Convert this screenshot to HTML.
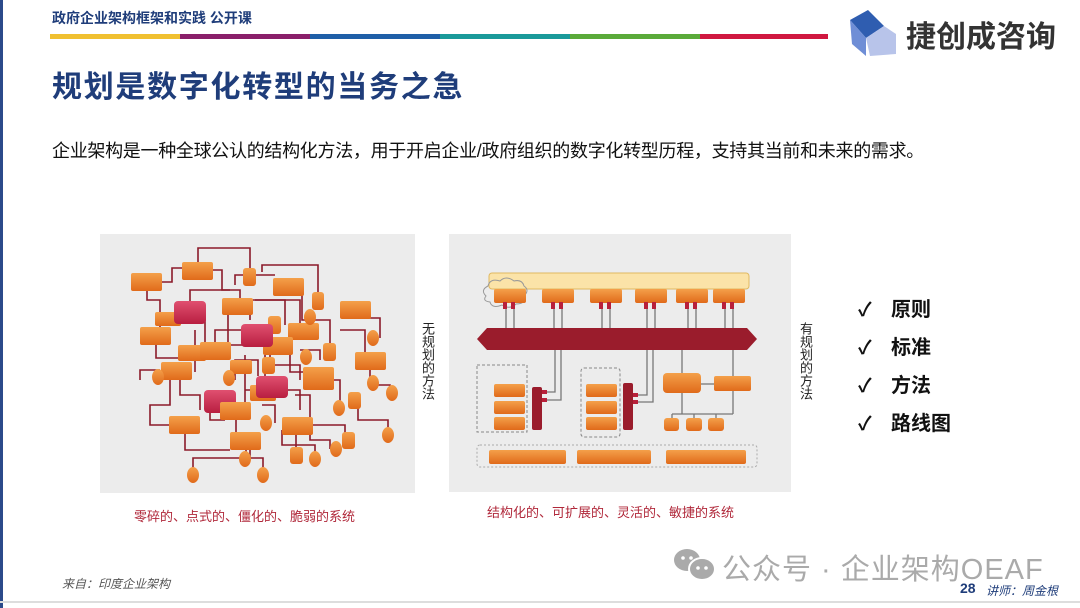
<!DOCTYPE html>
<html><head><meta charset="utf-8"><style>
*{margin:0;padding:0}
body{width:1080px;height:608px;position:relative;background:#fff;overflow:hidden;font-family:"Liberation Sans","Noto Sans CJK SC",sans-serif}
.a{position:absolute;white-space:nowrap}
</style></head><body>
<div class="a" style="left:0;top:0;width:3px;height:608px;background:#2b4a8a"></div>
<div class="a" style="left:52px;top:8px;font-size:14px;font-weight:bold;color:#1f3d7a">政府企业架构框架和实践 公开课</div>
<div class="a" style="left:50px;top:34px;height:5px;width:130px;background:#f0c030"></div>
<div class="a" style="left:180px;top:34px;height:5px;width:130px;background:#8a1f6a"></div>
<div class="a" style="left:310px;top:34px;height:5px;width:130px;background:#1f5fa8"></div>
<div class="a" style="left:440px;top:34px;height:5px;width:130px;background:#1a9a9a"></div>
<div class="a" style="left:570px;top:34px;height:5px;width:130px;background:#5aaa3a"></div>
<div class="a" style="left:700px;top:34px;height:5px;width:128px;background:#d01840"></div>
<svg class="a" style="left:848px;top:8px" width="52" height="48"><polygon points="2,12 20,2 36,18 18,30" fill="#2f5db0"/><polygon points="2,12 18,30 18,48 4,36" fill="#6f8ed6"/><polygon points="18,30 36,18 48,26 48,46 22,48" fill="#b8c4ea"/></svg>
<div class="a" style="left:906px;top:12px;font-size:30px;font-weight:bold;color:#333">捷创成咨询</div>
<div class="a" style="left:52px;top:62px;font-size:30px;font-weight:bold;color:#1f3d7a;letter-spacing:1.7px">规划是数字化转型的当务之急</div>
<div class="a" style="left:52px;top:137px;font-size:18px;color:#111;letter-spacing:-0.3px">企业架构是一种全球公认的结构化方法，用于开启企业/政府组织的数字化转型历程，支持其当前和未来的需求。</div>

<svg class="a" style="left:0;top:0" width="1080" height="608">
<defs>
<linearGradient id="o" x1="0" y1="0" x2="0" y2="1"><stop offset="0" stop-color="#f4a04a"/><stop offset="1" stop-color="#e06a1a"/></linearGradient>
<linearGradient id="p" x1="0" y1="0" x2="0" y2="1"><stop offset="0" stop-color="#e05070"/><stop offset="1" stop-color="#b81e40"/></linearGradient>
</defs>
<rect x="100" y="234" width="315" height="259" fill="#ececec"/>
<rect x="449" y="234" width="342" height="258" fill="#ececec"/>
<g stroke="#8b1a2a" stroke-width="1.6" fill="none">
<polyline points="147,282 147,300 160,300 160,340"/>
<polyline points="162,282 172,282 172,268 182,268"/>
<polyline points="198,262 198,248 250,248 250,268"/>
<polyline points="213,270 222,270 222,290 240,290 240,305"/>
<polyline points="262,272 262,265 318,265 318,292"/>
<polyline points="288,286 302,286 302,320 330,320 330,343"/>
<polyline points="190,310 190,290 230,290"/>
<polyline points="156,345 156,358 200,358"/>
<polyline points="180,370 180,395 200,395 200,410"/>
<polyline points="215,350 215,330 245,330"/>
<polyline points="250,320 250,300 285,300 285,325"/>
<polyline points="270,345 270,365 300,365 300,380"/>
<polyline points="170,380 170,405 150,405 150,425 170,425"/>
<polyline points="235,380 235,360 258,360 258,376"/>
<polyline points="340,330 365,330 365,352"/>
<polyline points="356,318 380,318 380,338"/>
<polyline points="370,370 370,385 390,385 390,393"/>
<polyline points="318,380 340,380 340,408"/>
<polyline points="295,395 310,395 310,440 330,440 330,449"/>
<polyline points="236,420 236,440 250,440 250,459"/>
<polyline points="185,434 185,450 230,450"/>
<polyline points="262,405 275,405 275,423"/>
<polyline points="296,434 296,448"/>
<polyline points="300,425 345,425 345,440"/>
<polyline points="246,450 246,458 193,458 193,475"/>
<polyline points="246,458 263,458 263,475"/>
<polyline points="282,430 282,445 315,445 315,459"/>
<polyline points="358,395 358,420 388,420 388,435"/>
<polyline points="205,345 205,315 180,315"/>
<polyline points="228,315 228,345 260,345"/>
<polyline points="265,355 265,390 245,390"/>
<polyline points="320,360 320,350 300,350"/>
<polyline points="210,395 210,420 225,420"/>
<polyline points="275,390 300,390 300,410"/>
<polyline points="160,370 140,370 140,380"/>
<polyline points="255,300 300,300 300,330"/>
<polyline points="235,285 235,275 275,275"/>
<polyline points="290,350 290,372 320,372"/>
<polyline points="195,330 195,372"/>
<polyline points="245,355 245,410"/>
</g>
<g fill="url(#o)">
<rect x="131" y="273" width="31" height="18" rx="2"/><rect x="182" y="262" width="31" height="18" rx="2"/>
<rect x="273" y="278" width="31" height="18" rx="2"/><rect x="222" y="298" width="31" height="17" rx="2"/>
<rect x="340" y="301" width="31" height="18" rx="2"/><rect x="140" y="327" width="31" height="18" rx="2"/>
<rect x="288" y="323" width="31" height="17" rx="2"/><rect x="355" y="352" width="31" height="18" rx="2"/>
<rect x="161" y="362" width="31" height="18" rx="2"/><rect x="303" y="367" width="31" height="23" rx="2"/>
<rect x="169" y="416" width="31" height="18" rx="2"/><rect x="282" y="417" width="31" height="18" rx="2"/>
<rect x="230" y="432" width="31" height="18" rx="2"/><rect x="263" y="337" width="30" height="18" rx="2"/>
<rect x="243" y="268" width="13" height="18" rx="3"/><rect x="312" y="292" width="12" height="18" rx="3"/>
<rect x="268" y="316" width="13" height="18" rx="3"/><rect x="323" y="343" width="13" height="18" rx="3"/>
<rect x="262" y="357" width="13" height="17" rx="3"/><rect x="348" y="392" width="13" height="17" rx="3"/>
<rect x="290" y="447" width="13" height="17" rx="3"/><rect x="342" y="432" width="13" height="17" rx="3"/>
<rect x="178" y="345" width="28" height="16" rx="2"/><rect x="250" y="385" width="26" height="16" rx="2"/>
<rect x="155" y="312" width="26" height="14" rx="2"/><rect x="230" y="360" width="22" height="14" rx="2"/>
</g>
<g fill="url(#p)">
<rect x="174" y="301" width="32" height="23" rx="4"/><rect x="241" y="324" width="32" height="23" rx="4"/>
<rect x="256" y="376" width="32" height="22" rx="4"/><rect x="204" y="390" width="32" height="23" rx="4"/>
</g>
<g fill="url(#o)">
<rect x="200" y="342" width="31" height="18" rx="2"/><rect x="220" y="402" width="31" height="18" rx="2"/>
<ellipse cx="158" cy="377" rx="6" ry="8"/><ellipse cx="229" cy="378" rx="6" ry="8"/><ellipse cx="306" cy="357" rx="6" ry="8"/>
<ellipse cx="310" cy="317" rx="6" ry="8"/><ellipse cx="373" cy="338" rx="6" ry="8"/><ellipse cx="373" cy="383" rx="6" ry="8"/>
<ellipse cx="392" cy="393" rx="6" ry="8"/><ellipse cx="339" cy="408" rx="6" ry="8"/><ellipse cx="266" cy="423" rx="6" ry="8"/>
<ellipse cx="388" cy="435" rx="6" ry="8"/><ellipse cx="336" cy="449" rx="6" ry="8"/><ellipse cx="315" cy="459" rx="6" ry="8"/>
<ellipse cx="245" cy="459" rx="6" ry="8"/><ellipse cx="193" cy="475" rx="6" ry="8"/><ellipse cx="263" cy="475" rx="6" ry="8"/>
</g>

<rect x="489" y="273" width="260" height="16" rx="3" fill="#fbe3a8" stroke="#e0b860"/>
<path d="M486,296 q-6,-6 2,-10 q2,-8 12,-5 q6,-6 14,0 q8,-2 10,5 q6,4 0,10 q2,8 -8,8 q-6,6 -14,1 q-10,4 -12,-3 q-8,-1 -4,-6z" fill="none" stroke="#999"/>
<g stroke="#777" stroke-width="1.3">
<line x1="506" y1="300" x2="506" y2="330"/><line x1="514" y1="300" x2="514" y2="330"/>
<line x1="554" y1="300" x2="554" y2="330"/><line x1="562" y1="300" x2="562" y2="330"/>
<line x1="602" y1="300" x2="602" y2="330"/><line x1="610" y1="300" x2="610" y2="330"/>
<line x1="647" y1="300" x2="647" y2="330"/><line x1="655" y1="300" x2="655" y2="330"/>
<line x1="688" y1="300" x2="688" y2="330"/><line x1="696" y1="300" x2="696" y2="330"/>
<line x1="725" y1="300" x2="725" y2="330"/><line x1="733" y1="300" x2="733" y2="330"/>
<polyline points="555,348 555,392 545,392" fill="none"/><polyline points="561,348 561,400 545,400" fill="none"/>
<polyline points="647,348 647,395 636,395" fill="none"/><polyline points="653,348 653,402 636,402" fill="none"/>
<line x1="682" y1="348" x2="682" y2="414"/><line x1="733" y1="348" x2="733" y2="414"/>
<line x1="701" y1="384" x2="714" y2="384"/><polyline points="672,414 733,414" fill="none"/>
<line x1="672" y1="414" x2="672" y2="420"/><line x1="694" y1="414" x2="694" y2="420"/><line x1="716" y1="414" x2="716" y2="420"/>
</g>
<g fill="url(#o)">
<rect x="494" y="289" width="32" height="14" rx="2"/><rect x="542" y="289" width="32" height="14" rx="2"/>
<rect x="590" y="289" width="32" height="14" rx="2"/><rect x="635" y="289" width="32" height="14" rx="2"/>
<rect x="676" y="289" width="32" height="14" rx="2"/><rect x="713" y="289" width="32" height="14" rx="2"/>
</g>
<g fill="#b8203a">
<rect x="503" y="302" width="4" height="7"/><rect x="511" y="302" width="4" height="7"/>
<rect x="551" y="302" width="4" height="7"/><rect x="559" y="302" width="4" height="7"/>
<rect x="599" y="302" width="4" height="7"/><rect x="607" y="302" width="4" height="7"/>
<rect x="644" y="302" width="4" height="7"/><rect x="652" y="302" width="4" height="7"/>
<rect x="685" y="302" width="4" height="7"/><rect x="693" y="302" width="4" height="7"/>
<rect x="722" y="302" width="4" height="7"/><rect x="730" y="302" width="4" height="7"/>
<rect x="542" y="390" width="5" height="4"/><rect x="542" y="398" width="5" height="4"/>
<rect x="633" y="393" width="5" height="4"/><rect x="633" y="400" width="5" height="4"/>
</g>
<polygon points="477,339 487,328 747,328 757,339 747,350 487,350" fill="#9a1c2c"/>
<rect x="477" y="365" width="50" height="67" fill="none" stroke="#888" stroke-dasharray="3,2"/>
<rect x="581" y="368" width="39" height="69" rx="3" fill="none" stroke="#888" stroke-dasharray="3,2"/>
<rect x="477" y="445" width="280" height="22" rx="3" fill="none" stroke="#aaa" stroke-dasharray="2,2"/>
<g fill="url(#o)">
<rect x="494" y="384" width="31" height="13" rx="2"/><rect x="494" y="401" width="31" height="13" rx="2"/><rect x="494" y="417" width="31" height="13" rx="2"/>
<rect x="586" y="384" width="31" height="13" rx="2"/><rect x="586" y="401" width="31" height="13" rx="2"/><rect x="586" y="417" width="31" height="13" rx="2"/>
<rect x="663" y="373" width="38" height="20" rx="4"/><rect x="714" y="376" width="37" height="15" rx="2"/>
<rect x="664" y="418" width="15" height="13" rx="3"/><rect x="686" y="418" width="16" height="13" rx="3"/><rect x="708" y="418" width="16" height="13" rx="3"/>
<rect x="489" y="450" width="77" height="14" rx="2"/><rect x="577" y="450" width="74" height="14" rx="2"/><rect x="666" y="450" width="80" height="14" rx="2"/>
</g>
<rect x="532" y="387" width="10" height="43" rx="2" fill="#9a1c2c"/>
<rect x="623" y="383" width="10" height="47" rx="2" fill="#9a1c2c"/>
</svg>

<div class="a" style="left:421px;top:322px;writing-mode:vertical-rl;font-size:13px;line-height:13px;color:#222">无规划的方法</div>
<div class="a" style="left:799px;top:322px;writing-mode:vertical-rl;font-size:13px;line-height:13px;color:#222">有规划的方法</div>
<div class="a" style="left:134px;top:506px;font-size:13px;color:#b0283a">零碎的、点式的、僵化的、脆弱的系统</div>
<div class="a" style="left:487px;top:502px;font-size:13px;color:#b0283a">结构化的、可扩展的、灵活的、敏捷的系统</div>

<div class="a" style="left:858px;top:292px;font-size:19px;font-weight:bold;color:#111;line-height:38px">✓</div>
<div class="a" style="left:858px;top:330px;font-size:19px;font-weight:bold;color:#111;line-height:38px">✓</div>
<div class="a" style="left:858px;top:368px;font-size:19px;font-weight:bold;color:#111;line-height:38px">✓</div>
<div class="a" style="left:858px;top:406px;font-size:19px;font-weight:bold;color:#111;line-height:38px">✓</div>
<div class="a" style="left:891px;top:291px;font-size:20px;font-weight:bold;color:#111;line-height:38px">原则<br>标准<br>方法<br>路线图</div>

<svg class="a" style="left:672px;top:547px" width="46" height="36"><ellipse cx="15" cy="13" rx="13" ry="11" fill="#aaa"/><ellipse cx="30" cy="22" rx="13" ry="11" fill="#aaa" stroke="#fff" stroke-width="2"/><circle cx="26" cy="21" r="1.8" fill="#fff"/><circle cx="34" cy="21" r="1.8" fill="#fff"/><circle cx="11" cy="11" r="1.8" fill="#fff"/><circle cx="19" cy="11" r="1.8" fill="#fff"/></svg>
<div class="a" style="left:722px;top:546px;font-size:29px;color:#aaa;letter-spacing:1px">公众号 · 企业架构OEAF</div>
<div class="a" style="left:62px;top:575px;font-size:12px;font-style:italic;color:#555">来自：印度企业架构</div>
<div class="a" style="left:960px;top:580px;font-size:14px;font-weight:bold;color:#1f3d7a">28</div>
<div class="a" style="left:986px;top:582px;font-size:12px;font-style:italic;color:#1f3d7a">讲师：周金根</div>
<div class="a" style="left:0;top:601px;width:1080px;height:2px;background:#ddd"></div>
</body></html>
